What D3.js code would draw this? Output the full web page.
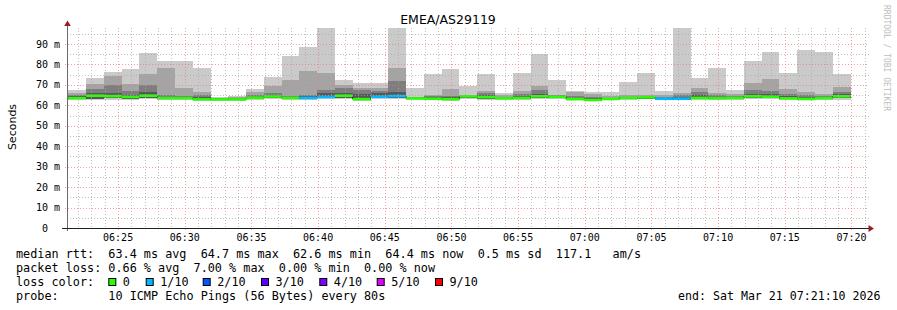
<!DOCTYPE html>
<html><head><meta charset="utf-8">
<script src="https://cdn.jsdelivr.net/npm/d3@7"></script>
<style>
html,body{margin:0;padding:0;background:#fff;}
svg{display:block;}
text{font-family:"DejaVu Sans Mono", monospace;white-space:pre;}
</style></head><body>
<svg id="chart" width="897" height="310"></svg>
<script>
// ---------------- data ----------------
const chartTitle = "EMEA/AS29119";
const startTime = "2026-03-21T06:21:10";
const endTime = "2026-03-21T07:21:10";
const firstBarEnd = "2026-03-21T06:21:16";
const stepSeconds = 80;

const maxPing = [68.1, 67.5, 73.4, 76.3, 77.8, 85.6, 81.7, 81.7, 78.3, 64.2, 64.6, 68.0, 73.9, 84.1, 88.6, 99.0, 72.3, 70.9, 70.9, 99.0, 68.6, 75.2, 77.8, 69.5, 75.3, 66.2, 75.8, 85.3, 72.3, 67.0, 66.4, 66.5, 71.4, 76.0, 67.2, 99.0, 73.4, 78.4, 67.5, 81.9, 86.3, 76.0, 87.1, 86.1, 75.3];
const ping9 = [65.8, 66.0, 70.4, 74.4, 70.3, 75.5, 78.0, 68.6, 66.7, 63.8, 63.9, 66.4, 69.3, 72.6, 76.8, 75.6, 70.1, 68.6, 68.5, 78.0, 64.2, 65.2, 68.0, 64.9, 67.0, 65.2, 67.0, 69.5, 65.2, 66.6, 65.6, 64.5, 64.9, 65.2, 65.1, 66.2, 68.6, 66.2, 65.6, 70.8, 72.9, 68.0, 66.7, 65.7, 69.1];
const ping8 = [65.0, 65.0, 68.0, 70.0, 67.2, 69.7, 65.0, 64.6, 65.1, 63.5, 63.5, 65.0, 66.0, 64.7, 65.2, 67.3, 68.6, 67.5, 67.0, 71.9, 63.9, 64.5, 64.6, 64.7, 66.2, 64.3, 65.6, 67.7, 64.8, 64.5, 64.0, 63.8, 64.3, 64.6, 64.2, 65.1, 66.7, 64.9, 64.6, 67.5, 67.2, 65.6, 65.0, 64.6, 66.7];
const ping7 = [64.4, 64.4, 66.2, 66.0, 65.0, 66.5, 64.2, 64.0, 64.3, 63.2, 63.2, 64.3, 65.0, 64.3, 64.5, 65.9, 66.0, 65.5, 66.0, 66.5, 63.7, 63.9, 64.0, 64.6, 65.0, 64.0, 64.6, 65.5, 64.5, 63.8, 63.4, 63.5, 64.0, 64.3, 63.8, 64.2, 64.8, 64.2, 64.1, 65.5, 65.4, 64.5, 64.0, 64.1, 65.5];
const medianRtt = [63.5, 63.5, 64.7, 64.5, 64.1, 64.7, 63.5, 63.5, 62.9, 62.9, 62.9, 63.7, 64.3, 63.6, 63.6, 64.1, 64.7, 63.0, 64.2, 64.5, 63.4, 63.2, 63.0, 64.4, 64.0, 63.4, 63.6, 64.4, 64.1, 63.0, 62.6, 63.1, 63.6, 63.9, 63.2, 63.2, 63.6, 63.4, 63.6, 64.4, 64.2, 63.4, 63.1, 63.5, 64.4];
const ping4 = [63.0, 62.9, 63.2, 63.5, 63.3, 63.6, 63.0, 63.0, 62.5, 62.6, 62.6, 63.2, 63.4, 63.1, 63.1, 63.4, 63.5, 62.6, 63.4, 63.7, 63.0, 62.8, 62.6, 63.6, 63.1, 63.0, 63.1, 63.5, 63.4, 62.7, 62.4, 62.7, 63.1, 63.3, 62.8, 62.8, 63.1, 63.0, 63.1, 63.5, 63.4, 63.0, 62.7, 63.0, 63.4];
const minPing = [62.5, 62.5, 62.4, 62.8, 62.8, 63.0, 62.5, 62.6, 62.2, 62.3, 62.3, 62.8, 62.9, 62.7, 62.6, 62.9, 62.9, 62.3, 62.9, 63.1, 62.6, 62.5, 62.3, 63.1, 62.7, 62.7, 62.7, 63.0, 63.0, 62.4, 62.1, 62.4, 62.8, 62.9, 62.5, 62.5, 62.7, 62.6, 62.7, 63.0, 62.9, 62.6, 62.4, 62.6, 62.8];
const lossTenths = [0, 0, 0, 0, 0, 0, 0, 0, 0, 0, 0, 0, 0, 0, 1, 1, 0, 0, 1, 1, 0, 0, 0, 0, 0, 0, 0, 0, 0, 0, 0, 0, 0, 0, 1, 1, 0, 0, 0, 0, 0, 0, 0, 0, 0];

const yTickValues = [0, 10, 20, 30, 40, 50, 60, 70, 80, 90];
const yTickLabels = ["0  ", "10 m", "20 m", "30 m", "40 m", "50 m", "60 m", "70 m", "80 m", "90 m"];
const xTickLabels = ["06:25", "06:30", "06:35", "06:40", "06:45", "06:50", "06:55", "07:00", "07:05", "07:10", "07:15", "07:20"];

const lossLabels = ["0", "1/10", "2/10", "3/10", "4/10", "5/10", "9/10"];
const lossColors = ["#26ff00", "#00b8ff", "#0059ff", "#5e00ff", "#7e00ff", "#dd00ff", "#ff0000"];
const lossThresholds = [0, 1, 2, 3, 4, 5, 6];
const smokeColors = ["#cacaca", "#a4a4a4", "#7e7e7e", "#585858"];

const statsRtt = "median rtt:  63.4 ms avg  64.7 ms max  62.6 ms min  64.4 ms now  0.5 ms sd  117.1   am/s";
const statsLoss = "packet loss: 0.66 % avg  7.00 % max  0.00 % min  0.00 % now";
const lossColorTitle = "loss color:";
const probeText = "probe:       10 ICMP Echo Pings (56 Bytes) every 80s";
const endText = "end: Sat Mar 21 07:21:10 2026";
const creditText = "RRDTOOL / TOBI OETIKER";

// ---------------- drawing ----------------
const svg = d3.select("#chart");
const L = 67, R = 867, T = 28, B = 228;
const x = d3.scaleTime().domain([new Date(startTime), new Date(endTime)]).range([L, R]);
const y = d3.scaleLinear().domain([0, 97.8]).range([B, T]);

svg.append("rect").attr("width", 897).attr("height", 310).attr("fill", "#fff");
svg.append("defs").append("clipPath").attr("id", "plot")
  .append("rect").attr("x", L).attr("y", T).attr("width", R - L).attr("height", B - T);

const t0 = new Date(firstBarEnd).getTime();
const bars = maxPing.map((v, i) => {
  const end = new Date(t0 + i * stepSeconds * 1000);
  const start = new Date(end.getTime() - stepSeconds * 1000);
  return {start, end, max: v, p9: ping9[i], p8: ping8[i], p7: ping7[i], med: medianRtt[i], p4: ping4[i], min: minPing[i], loss: lossTenths[i]};
});

const g = svg.append("g").attr("clip-path", "url(#plot)");
const bands = [
  {lo: d => d.min, hi: d => d.max, c: smokeColors[0]},
  {lo: d => d.p4, hi: d => d.p9, c: smokeColors[1]},
  {lo: d => d.p4, hi: d => d.p8, c: smokeColors[2]},
  {lo: d => d.p4, hi: d => d.p7, c: smokeColors[3]},
];
bands.forEach(b => {
  g.append("g").selectAll("rect").data(bars).join("rect")
    .attr("x", d => x(d.start)).attr("width", d => x(d.end) - x(d.start))
    .attr("y", d => y(b.hi(d))).attr("height", d => y(b.lo(d)) - y(b.hi(d)))
    .attr("fill", b.c).attr("shape-rendering", "crispEdges");
});

// median black step line
const stepPts = [];
bars.forEach(d => { stepPts.push([x(d.start), y(d.med)]); stepPts.push([x(d.end), y(d.med)]); });
g.append("path").attr("d", d3.line()(stepPts)).attr("fill", "none").attr("stroke", "#202020").attr("stroke-width", 1);

function lossColor(l) {
  let c = lossColors[0];
  lossThresholds.forEach((t, i) => { if (l >= t) c = lossColors[i]; });
  return c;
}
g.append("g").selectAll("rect").data(bars).join("rect")
  .attr("x", d => x(d.start)).attr("width", d => x(d.end) - x(d.start))
  .attr("y", d => y(d.med) - 1.3).attr("height", 2.6)
  .attr("fill", d => lossColor(d.loss));

// grid (on top)
const grid = svg.append("g");
const minorY = d3.range(5, 97.8, 5).filter(v => v % 10 !== 0);
grid.selectAll(".hmin").data(minorY).join("line")
  .attr("x1", L).attr("x2", R + 2).attr("y1", d => Math.round(y(d)) + 0.5).attr("y2", d => Math.round(y(d)) + 0.5)
  .attr("stroke", "rgba(170,170,170,0.75)").attr("stroke-dasharray", "1,2");
const minuteTicks = d3.timeMinute.range(new Date(startTime), new Date(endTime));
const majorTimes = xTickLabels.map(s => new Date("2026-03-21T" + s + ":00").getTime());
grid.selectAll(".vmin").data(minuteTicks.filter(t => !majorTimes.includes(t.getTime()))).join("line")
  .attr("x1", d => Math.round(x(d)) + 0.5).attr("x2", d => Math.round(x(d)) + 0.5).attr("y1", T).attr("y2", B)
  .attr("stroke", "rgba(170,170,170,0.75)").attr("stroke-dasharray", "1,2");
grid.selectAll(".hmaj").data(yTickValues.slice(1)).join("line")
  .attr("x1", L - 2).attr("x2", R + 2).attr("y1", d => Math.round(y(d)) + 0.5).attr("y2", d => Math.round(y(d)) + 0.5)
  .attr("stroke", "rgba(240,120,120,0.7)").attr("stroke-dasharray", "1,2");
grid.selectAll(".vmaj").data(majorTimes).join("line")
  .attr("x1", d => Math.round(x(new Date(d))) + 0.5).attr("x2", d => Math.round(x(new Date(d))) + 0.5).attr("y1", T).attr("y2", B + 2)
  .attr("stroke", "rgba(240,120,120,0.7)").attr("stroke-dasharray", "1,2");

// axes
svg.append("line").attr("x1", L + 0.5).attr("x2", L + 0.5).attr("y1", B + 3).attr("y2", 24).attr("stroke", "#6a6a6a");
svg.append("line").attr("x1", 62).attr("x2", 869).attr("y1", B + 0.5).attr("y2", B + 0.5).attr("stroke", "#202020");
svg.append("path").attr("d", "M64.2,26 L67.5,20.5 L70.8,26 Z").attr("fill", "#9b1c1c");
svg.append("path").attr("d", "M868.5,225 L874,228.5 L868.5,232 Z").attr("fill", "#9b1c1c");

// y tick labels
svg.append("g").selectAll("text").data(yTickValues).join("text")
  .attr("x", 60).attr("y", d => y(d) + 3.6).attr("text-anchor", "end")
  .attr("font-size", "10px").attr("fill", "#000")
  .text((d, i) => yTickLabels[i]);

// x tick labels
svg.append("g").selectAll("text").data(majorTimes).join("text")
  .attr("x", d => x(new Date(d))).attr("y", 241).attr("text-anchor", "middle")
  .attr("font-size", "10px").attr("fill", "#000")
  .text((d, i) => xTickLabels[i]);

// title and axis label
svg.append("text").attr("x", 448).attr("y", 24).attr("text-anchor", "middle")
  .style("font-family", "'DejaVu Sans', sans-serif").attr("font-size", "12.5px").attr("fill", "#000").text(chartTitle);
svg.append("text").attr("transform", "translate(15.5,127) rotate(-90)").attr("text-anchor", "middle")
  .style("font-family", "'DejaVu Sans', sans-serif").attr("font-size", "11px").attr("fill", "#000").text("Seconds");
svg.append("text").attr("transform", "translate(884,5) rotate(90)").attr("text-anchor", "start")
  .attr("font-size", "8px").attr("fill", "#bdbdbd").text(creditText);

// legend
const lf = "11.8px";
svg.append("text").attr("x", 16).attr("y", 257.5).attr("font-size", lf).attr("fill", "#000").text(statsRtt);
svg.append("text").attr("x", 16).attr("y", 271.7).attr("font-size", lf).attr("fill", "#000").text(statsLoss);
svg.append("text").attr("x", 16).attr("y", 286).attr("font-size", lf).attr("fill", "#000").text(lossColorTitle);
const boxX = [108.3, 145.7, 202.7, 261, 319.3, 376.7, 435];
lossLabels.forEach((s, i) => {
  svg.append("rect").attr("x", boxX[i] + 0.5).attr("y", 278.5).attr("width", 7).attr("height", 7)
    .attr("fill", lossColors[i]).attr("stroke", "#000").attr("stroke-width", 1);
  svg.append("text").attr("x", boxX[i] + 14.5).attr("y", 286).attr("font-size", lf).attr("fill", "#000").text(s);
});
svg.append("text").attr("x", 16).attr("y", 300.2).attr("font-size", lf).attr("fill", "#000").text(probeText);
svg.append("text").attr("x", 880.5).attr("y", 300.2).attr("text-anchor", "end").attr("font-size", "11.6px").attr("fill", "#000").text(endText);
</script>
</body></html>
